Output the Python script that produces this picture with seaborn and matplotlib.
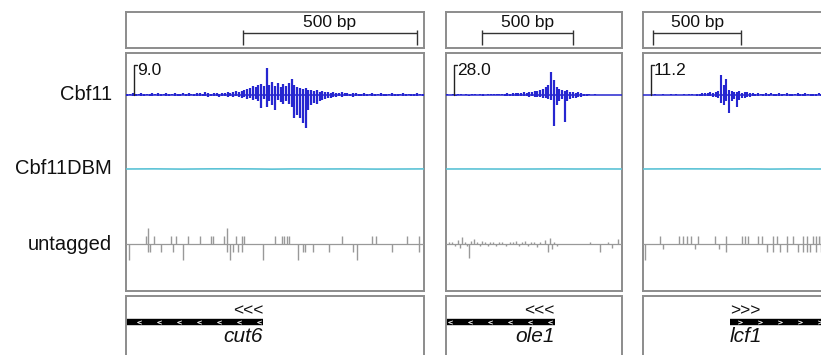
import numpy as np
import pandas as pd
import matplotlib
matplotlib.use("Agg")
import matplotlib.pyplot as plt
from matplotlib.lines import Line2D
from matplotlib.patches import Rectangle
import seaborn as sns

sns.set_theme(style="white")
plt.rcParams['font.family'] = ['Liberation Sans', 'DejaVu Sans']

# ---------------- data ----------------
track_names = ["Cbf11", "Cbf11DBM", "untagged"]
gene_names = ["cut6", "ole1", "lcf1"]
gene_strand = ["-", "-", "+"]
gene_start_bp = [-40, -40, 494]
gene_end_bp = [394, 598, 1300]
window_bp = [856, 967, 1090]
ruler_start_bp = [336, 198, 57]
ruler_len_bp = 500
ruler_label = "500 bp"
scale_max = [9.0, 28.0, 11.2]
scale_labels = ["9.0", "28.0", "11.2"]
bin_bp = [8, 15, 15]

cbf11_up_p1 = [0.3, 0.3, 0.6, 0.3, 0.3, 0.6, 0.3, 0.3, 0.3, 0.6, 0.3, 0.6, 0.3, 0.3, 0.6, 0.3, 0.3, 0.6,
               0.3, 0.3, 0.6, 0.3, 0.6, 0.3, 0.3, 0.6, 0.6, 0.3, 0.9, 0.6, 0.3, 0.6, 0.6, 0.3, 0.6,
               0.6, 0.9, 0.6, 0.9, 1.2, 0.9, 1.2, 1.5, 1.8,
               2.1, 2.7, 2.4, 3.0, 3.3, 2.7,
               8.1,
               3.0, 3.9, 2.7, 3.6, 2.4, 3.3, 2.7,
               3.6, 4.8,
               3.0, 2.4, 2.1, 1.8,
               2.1,
               1.5, 1.5, 1.2, 1.5, 0.9, 1.2, 0.9, 0.9,
               0.6, 0.9, 0.6, 0.6, 0.9, 0.6, 0.6, 0.3, 0.6, 0.6, 0.3,
               0.3, 0.6, 0.3, 0.3, 0.6, 0.3, 0.3, 0.6, 0.3, 0.3, 0.3, 0.6, 0.3, 0.3, 0.3, 0.6, 0.3, 0.3,
               0.3, 0.3, 0.6, 0.3, 0.3]
cbf11_down_p1 = [0.3, 0, 0.3, 0.3, 0, 0.3, 0.3, 0, 0.3, 0.3, 0, 0.3, 0.3, 0, 0.3, 0.3, 0, 0.3,
                 0.3, 0.3, 0, 0.3, 0.3, 0, 0.3, 0.3, 0.3, 0.3, 0.3, 0.6, 0.3, 0.3, 0.3, 0.6, 0.3,
                 0.3, 0.6, 0.3, 0.6, 0.3, 0.6, 0.9, 0.6, 1.2,
                 0.9, 1.5, 1.2, 1.8, 3.9, 1.2,
                 3.6,
                 1.8, 3.0, 4.5, 1.5, 2.1, 2.7, 1.8,
                 2.7, 3.6,
                 6.9, 6.0, 6.9, 8.4,
                 9.9,
                 4.5, 3.0, 2.4, 2.7, 1.8, 1.5, 1.2, 0.9,
                 0.9, 0.6, 0.6, 0.3, 0.6, 0.3, 0.3, 0.3, 0.6, 0.3, 0.3,
                 0.3, 0.3, 0.3, 0, 0.3, 0.3, 0, 0.3, 0.3, 0.3, 0, 0.3, 0.3, 0.3, 0, 0.3, 0.3, 0,
                 0.3, 0.3, 0.3, 0, 0.3]

cbf11_up_p2 = [0.9, 0, 0.9, 0, 0.9, 0.9, 0, 0.9, 0, 0.9, 0.9, 0, 0.9, 0.9, 0, 0.9, 0.9, 0.9, 0.9,
               0.9, 0.9, 0.9, 1.9, 0.9, 1.9, 1.9, 1.9,
               1.9, 2.8, 1.9, 2.8, 2.8, 3.7, 3.7, 4.7,
               5.6, 7.5, 9.3,
               21.5,
               14.0,
               7.5, 5.6, 4.7,
               3.7, 4.7,
               2.8, 2.8, 1.9, 2.8, 1.9,
               0.9, 0.9, 0.9, 0, 0.9, 0, 0, 0, 0, 0, 0, 0, 0, 0, 0]
cbf11_down_p2 = [0, 0, 0, 0.9, 0, 0, 0, 0, 0.9, 0, 0, 0, 0, 0.9, 0, 0, 0, 0, 0,
                 0, 0, 0.9, 0.9, 0.9, 0.9, 0.9, 0.9,
                 0.9, 0.9, 0.9, 1.9, 0.9, 1.9, 1.9, 1.9,
                 2.8, 2.8, 3.7,
                 4.7,
                 28.9,
                 9.3, 5.6, 3.7,
                 25.2, 5.6,
                 3.7, 2.8, 2.8, 1.9, 1.9,
                 0.9, 0.9, 0, 0, 0, 0, 0, 0, 0, 0, 0, 0, 0, 0, 0]

cbf11_up_p3 = [0, 0, 0, 0, 0.4, 0, 0, 0.4, 0, 0, 0.4, 0, 0.4, 0, 0, 0.4, 0, 0.4, 0.4, 0, 0.4,
               0.4, 0.7, 0.7, 0.7, 1.1, 0.7, 1.1,
               1.5,
               7.5,
               3.7,
               6.0,
               1.9,
               1.5, 1.1, 1.1, 1.5, 0.7, 1.1, 1.1, 0.7,
               0.7, 0.4, 0.7, 0.4, 0.4, 0.7, 0.4, 0.7, 0.4, 0.4, 0.7, 0.4, 0.4, 0.7, 0.4, 0.4,
               0.4, 0.7, 0.4, 0.4, 0.7, 0.4, 0.4, 0.4, 0.4, 0.7, 0.4, 0.4, 0.4, 0.4, 0.4]
cbf11_down_p3 = [0, 0, 0, 0, 0, 0, 0, 0, 0, 0, 0, 0, 0, 0, 0, 0, 0, 0, 0, 0, 0.4,
                 0.4, 0.4, 0.4, 0.4, 0.4, 0.7, 0.7,
                 1.1,
                 3.0,
                 3.7,
                 2.2,
                 6.7,
                 2.2, 1.5, 4.5, 1.9, 1.1, 1.1, 0.7, 0.7,
                 0.4, 0.4, 0.4, 0, 0.4, 0.4, 0.4, 0, 0.4, 0.4, 0.4, 0.4, 0, 0.4, 0.4, 0.4,
                 0, 0.4, 0.4, 0.4, 0.4, 0, 0.4, 0.4, 0.4, 0, 0.4, 0.4, 0.4, 0.4, 0]

dbm_pos_p1 = [0, 80, 160, 240, 300, 360, 420, 480, 560, 640, 720, 800, 856]
dbm_val_p1 = [0.0, 0.03, -0.02, 0.03, 0.04, 0.02, -0.03, 0.02, 0.0, 0.02, -0.02, 0.0, 0.02]
dbm_pos_p2 = [0, 120, 240, 360, 480, 600, 720, 840, 967]
dbm_val_p2 = [0.0, 0.01, 0.0, -0.01, 0.0, 0.02, 0.0, 0.01, 0.0]
dbm_pos_p3 = [0, 120, 240, 360, 480, 600, 720, 840, 960, 1090]
dbm_val_p3 = [0.0, 0.02, 0.03, 0.02, 0.0, 0.03, -0.02, 0.02, 0.0, 0.01]

untag_pos_p1 = [9, 57, 63, 63, 69, 80, 101, 129, 135, 144, 164, 178, 213, 244, 250, 282, 290, 290, 299, 308,
                316, 322, 333, 333, 339, 394, 428, 448, 454, 463, 468, 494, 509, 514, 537, 583, 621, 652,
                664, 707, 718, 764, 808, 842, 842]
untag_val_p1 = [-2, 1, 2, -1, -1, 1, -1, 1, -1, 1, -2, 1, 1, 1, 1, 1, 2, -1, -2, -1,
                1, -1, 1, -1, 1, -2, 1, 1, 1, 1, 1, -2, -1, -1, -1, -1, 1, -1,
                -2, 1, 1, -1, 1, 1, -1]
untag_pos_p2 = [16, 33, 49, 66, 77, 88, 104, 115, 126, 137, 154, 170, 187, 198, 214, 231, 242, 258, 275, 291,
                307, 329, 351, 368, 384, 401, 417, 434, 450, 467, 483, 500, 516, 544, 560, 571, 582, 593,
                609, 791, 846, 889, 911, 944]
untag_val_p2 = [0.3, 0.2, -0.2, 0.5, -0.5, 0.9, 0.3, -0.3, -1.8, 0.4, 0.6, 0.3, -0.2, 0.4, 0.3, -0.3, 0.3, 0.2,
                -0.2, 0.3, 0.3, -0.2, 0.2, 0.3, 0.4, -0.3, 0.3, 0.4, -0.2, 0.3, 0.2, -0.4, 0.3, 0.5, -1.0,
                0.8, -0.6, 0.3, -0.2, 0.2, -1.0, 0.3, -0.5, 0.6]
untag_pos_p3 = [11, 97, 114, 204, 227, 250, 273, 295, 312, 409, 432, 471, 471, 562, 579, 596, 653, 676, 704,
                738, 738, 761, 778, 818, 818, 852, 880, 909, 909, 932, 932, 948, 966, 983, 983, 1000, 1011, 1011]
untag_val_p3 = [-2, 1, -0.6, 1, 1, 1, 1, -0.6, 1, 1, -0.6, 1, -1, 1, 1, 1, 1, 1, -1,
                1, -1, 1, -1, 1, -1, 1, -1, 1, -1, 1, -1, -1, 1, 1, -1, 1, 1, -1]

cbf11_up = [cbf11_up_p1, cbf11_up_p2, cbf11_up_p3]
cbf11_down = [cbf11_down_p1, cbf11_down_p2, cbf11_down_p3]
dbm_pos = [dbm_pos_p1, dbm_pos_p2, dbm_pos_p3]
dbm_val = [dbm_val_p1, dbm_val_p2, dbm_val_p3]
untag_pos = [untag_pos_p1, untag_pos_p2, untag_pos_p3]
untag_val = [untag_val_p1, untag_val_p2, untag_val_p3]

# ---------------- layout ----------------
W, H = 821, 355
fig = plt.figure(figsize=(W / 100, H / 100), dpi=100)

def add_px(x0, y0, w, h):
    return fig.add_axes([x0 / W, 1 - (y0 + h) / H, w / W, h / H])

def fig_line(xs, ys, **kw):
    fig.add_artist(Line2D([x / W for x in xs], [1 - y / H for y in ys],
                          transform=fig.transFigure, **kw))

panel_x = [(126, 298), (446, 176), (643, 192)]
BORDER = "#8c8c8c"
BLUE = "#2626d0"
CYAN = "#5cc3d6"
GREY = "#999999"

def frame(ax):
    ax.set_xticks([]); ax.set_yticks([])
    ax.set_facecolor("none")
    for s in ax.spines.values():
        s.set_color(BORDER); s.set_linewidth(1.4); s.set_visible(True)

def bare(ax):
    ax.set_axis_off()
    ax.patch.set_alpha(0)

for p, (x0, w) in enumerate(panel_x):
    span = window_bp[p]
    pxbp = w / span  # pixels per bp

    # ruler box
    axr = add_px(x0, 12, w, 36)
    frame(axr)
    axr.set_xlim(0, span); axr.set_ylim(48, 12)
    r0, r1 = ruler_start_bp[p], ruler_start_bp[p] + ruler_len_bp
    axr.hlines(33, r0, r1, color="#333333", lw=1.0)
    axr.vlines([r0, r1], 30, 45, color="#333333", lw=1.0)
    axr.text((r0 + r1) / 2, 23, ruler_label, ha="center", va="center", fontsize=12.5, color="#111111")

    # tracks frame
    axf = add_px(x0, 53, w, 238)
    frame(axf)

    # Cbf11 track
    s = scale_max[p]
    axc = add_px(x0, 55, w, 80)
    bare(axc)
    axc.set_xlim(0, span); axc.set_ylim(-s * 40 / 30, s * 40 / 30)
    up = np.array(cbf11_up[p]); dn = np.array(cbf11_down[p])
    centers = (np.arange(len(up)) + 0.5) * bin_bp[p]
    lw_sig = bin_bp[p] * pxbp * 0.72 * 0.8
    axc.axhline(0, color=BLUE, lw=1.1)
    axc.vlines(centers, 0, up, color=BLUE, lw=lw_sig)
    axc.vlines(centers, -dn, 0, color=BLUE, lw=lw_sig)
    bx = 8 / w
    axc.plot([bx, bx, bx + 3 / w], [0, s, s], color="#222222", lw=1.0,
             transform=axc.get_yaxis_transform(), clip_on=False)
    axc.text(bx + 3 / w, s * 1.06, scale_labels[p], transform=axc.get_yaxis_transform(),
             ha="left", va="top", fontsize=12.5, color="#111111")

    # Cbf11DBM track
    axd = add_px(x0, 150, w, 38)
    axd.set_xlim(0, span)
    df_d = pd.DataFrame({"pos": dbm_pos[p], "val": dbm_val[p]})
    sns.lineplot(data=df_d, x="pos", y="val", ax=axd, color=CYAN, lw=1.2)
    axd.set_ylim(-4, 4)
    bare(axd)

    # untagged track
    axu = add_px(x0, 219, w, 50)
    bare(axu)
    axu.set_xlim(0, span); axu.set_ylim(-25 / 8, 25 / 8)
    axu.axhline(0, color=GREY, lw=0.9)
    uv = np.array(untag_val[p])
    axu.vlines(untag_pos[p], np.minimum(uv, 0), np.maximum(uv, 0), color=GREY, lw=1.0)

    # gene box: open at the bottom (cut off by the figure edge)
    axg = add_px(x0, 295, w, 60)
    bare(axg)
    axg.set_xlim(0, span); axg.set_ylim(355, 295)
    gs, ge = gene_start_bp[p], gene_end_bp[p]
    axg.hlines(322, gs, ge, color="black", lw=4.6)
    step = 20 / pxbp
    if gene_strand[p] == "-":
        chev = np.arange(ge - 4.5 / pxbp, max(gs, 0), -step)
        axg.plot(chev, [322] * len(chev), ls="none", marker="$<$", ms=3, color="white", mew=0.2)
        axg.text(ge, 311, "<<<", ha="right", va="center", fontsize=12.5, color="#111111")
        axg.text(ge, 337, gene_names[p], ha="right", va="center", fontsize=15, style="italic", color="#111111")
    else:
        chev = np.arange(gs + 10 / pxbp, span, step)
        axg.plot(chev, [322] * len(chev), ls="none", marker="$>$", ms=3, color="white", mew=0.2)
        axg.text(gs, 311, ">>>", ha="left", va="center", fontsize=12.5, color="#111111")
        axg.text(gs, 337, gene_names[p], ha="left", va="center", fontsize=15, style="italic", color="#111111")

    # keep the bottom of the gene box open
    fig.add_artist(Rectangle((x0 / W, 0), w / W, 8 / H, transform=fig.transFigure,
                             facecolor="white", edgecolor="none", zorder=20))
    fig_line([x0, x0, x0 + w, x0 + w], [365, 295.5, 295.5, 365], color=BORDER, lw=1.4,
             solid_joinstyle="miter", zorder=21)

# row labels
for name, yb in zip(track_names, [95, 169, 244]):
    fig.text(112 / W, 1 - yb / H, name, ha="right", va="center", fontsize=14.5, color="#111111")

fig.savefig("out.png", dpi=100, facecolor="white")
